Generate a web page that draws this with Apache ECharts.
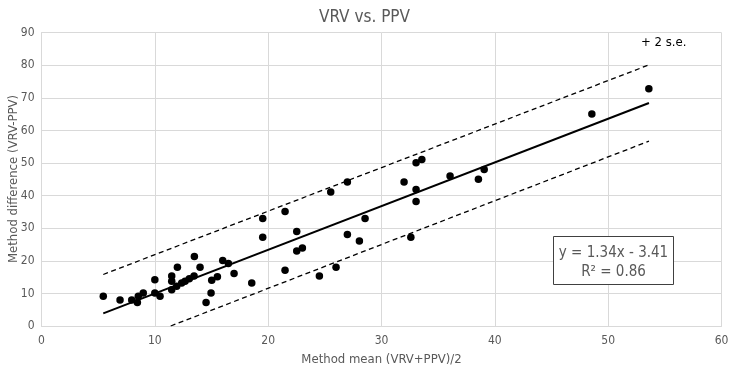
<!DOCTYPE html>
<html><head><meta charset="utf-8">
<script src="https://cdn.jsdelivr.net/npm/echarts@6/dist/echarts.min.js"></script>
<style>html,body{margin:0;padding:0;background:#fff}#c{width:729px;height:369px}</style>
</head><body><div id="c"></div>
<script>
// Method mean (VRV+PPV)/2
const meanX = [5.45, 6.93, 7.96, 8.46, 8.54, 8.98, 10.0, 10.0, 10.46,
  11.49, 11.49, 11.49, 11.93, 11.99, 12.37, 12.67, 13.04, 13.46, 13.49, 13.99, 14.52, 14.96, 15.02, 15.52, 15.99, 16.49, 16.99, 18.55,
  19.52, 19.52, 21.49, 21.49, 22.52, 22.52, 23.02, 24.52, 25.52, 25.99, 26.99, 26.99, 28.05, 28.55,
  31.99, 33.05, 33.56, 33.05, 33.05, 32.59, 36.05, 38.55, 39.06,
  48.56, 53.59];
// Method difference (VRV-PPV)
const diffY = [9.1, 8.0, 8.0, 7.2, 9.1, 10.1, 14.2, 10.1, 9.1,
  15.3, 13.7, 11.1, 12.2, 18.0, 13.2, 13.7, 14.5, 15.3, 21.3, 18.0, 7.2, 10.1, 14.0, 15.1, 20.1, 19.2, 16.1, 13.2,
  33.0, 27.2, 35.1, 17.1, 29.0, 23.0, 23.9, 15.3, 41.1, 18.0, 44.2, 28.1, 26.1, 33.0,
  44.2, 50.1, 51.1, 41.9, 38.2, 27.2, 46.0, 45.0, 48.0,
  65.0, 72.8];
// Fitted line y = 1.34x - 3.41 and ±2 s.e. bands (endpoints)
const regLine = [[5.45, 3.89], [53.6, 68.4]];
const upperSE = [[5.45, 15.8], [53.6, 80.1]];
const lowerSE = [[11.4, 0], [53.6, 56.7]];
const xTicks = [0, 10, 20, 30, 40, 50, 60];
const yTicks = [0, 10, 20, 30, 40, 50, 60, 70, 80, 90];
const titleText = 'VRV vs. PPV';
const xName = 'Method mean (VRV+PPV)/2';
const yName = 'Method difference (VRV-PPV)';
const eqText = 'y = 1.34x - 3.41';
const r2Text = 'R² = 0.86';
const seText = '+ 2 s.e.';

const FONT = '"Liberation Sans Narrow","DejaVu Sans Condensed","Open Sans",sans-serif';
const GRAY = '#595959';
const chart = echarts.init(document.getElementById('c'), null, {renderer: 'canvas'});
const pts = meanX.map((x, i) => [x, diffY[i]]);
chart.setOption({
  animation: false,
  backgroundColor: '#fff',
  title: {text: titleText, left: 'center', top: 4, textStyle: {fontFamily: FONT, fontSize: 17, fontWeight: 'normal', color: GRAY}},
  grid: {left: 41.5, right: 7.5, top: 32.6, bottom: 43, containLabel: false, outerBoundsMode: 'none'},
  xAxis: {
    type: 'value', min: xTicks[0], max: xTicks[xTicks.length - 1], interval: 10,
    name: xName, nameLocation: 'middle', nameGap: 27,
    nameTextStyle: {fontFamily: FONT, fontSize: 13, color: GRAY},
    axisLine: {show: true, onZero: false, lineStyle: {color: '#d9d9d9'}},
    axisTick: {show: false},
    axisLabel: {fontFamily: FONT, fontSize: 12, color: GRAY, margin: 9},
    splitLine: {show: true, lineStyle: {color: '#d9d9d9'}}
  },
  yAxis: {
    type: 'value', min: yTicks[0], max: yTicks[yTicks.length - 1], interval: 10,
    axisLine: {show: true, lineStyle: {color: '#d9d9d9'}},
    axisTick: {show: false},
    axisLabel: {fontFamily: FONT, fontSize: 12, color: GRAY, margin: 7},
    splitLine: {show: true, lineStyle: {color: '#d9d9d9'}}
  },
  series: [
    {type: 'line', data: upperSE, symbol: 'none', lineStyle: {color: '#000', width: 1.3, type: [5, 3.5]}, z: 2},
    {type: 'line', data: lowerSE, symbol: 'none', lineStyle: {color: '#000', width: 1.3, type: [5, 3.5]}, z: 2},
    {type: 'line', data: regLine, symbol: 'none', lineStyle: {color: '#000', width: 2}, z: 3},
    {type: 'scatter', data: pts, symbol: 'circle', symbolSize: 7.5, itemStyle: {color: '#000', opacity: 1}, z: 4}
  ],
  graphic: [
    {type: 'text', x: 14, y: 179, rotation: Math.PI / 2, style: {text: yName, font: '13px ' + FONT, fill: GRAY, align: 'center', verticalAlign: 'middle'}},
    {type: 'text', left: 641, top: 36, style: {text: seText, font: '13px ' + FONT, fill: '#000'}},
    {type: 'rect', shape: {x: 553.5, y: 236.5, width: 120, height: 48}, style: {fill: '#fff', stroke: '#404040', lineWidth: 1}, z: 10},
    {type: 'text', x: 613.5, y: 253, style: {text: eqText, font: '15px ' + FONT, fill: GRAY, align: 'center', verticalAlign: 'middle'}, z: 11},
    {type: 'text', x: 613.5, y: 272, style: {text: r2Text, font: '15px ' + FONT, fill: GRAY, align: 'center', verticalAlign: 'middle'}, z: 11}
  ]
});
</script></body></html>
